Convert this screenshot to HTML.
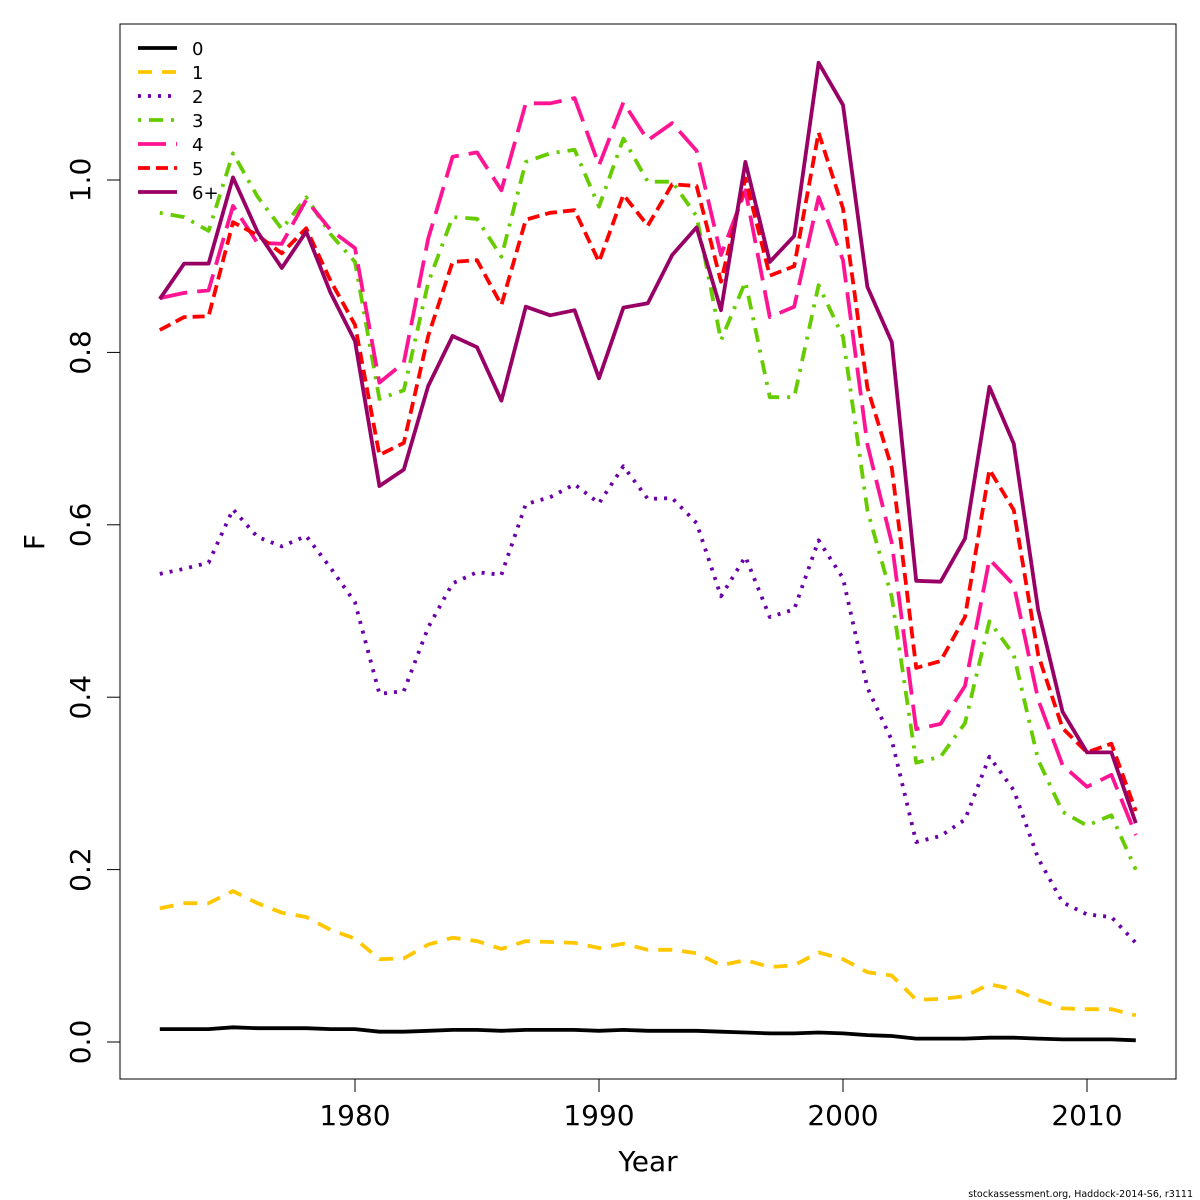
<!DOCTYPE html>
<html><head><meta charset="utf-8"><style>
html,body{margin:0;padding:0;background:#fff;}
svg{display:block;font-family:"DejaVu Sans","Liberation Sans",sans-serif;}
</style></head><body>
<svg id="chart" width="1200" height="1200" viewBox="0 0 1200 1200" xmlns="http://www.w3.org/2000/svg">
<rect x="0" y="0" width="1200" height="1200" fill="#fff"/>
<rect x="120" y="24" width="1056" height="1055" fill="none" stroke="#000" stroke-width="1"/>
<g id="axes"></g>
<g id="series"></g>
<g id="legend"></g>
<text x="648" y="1171" font-size="28" text-anchor="middle">Year</text>
<text x="44" y="542" font-size="28" text-anchor="middle" transform="rotate(-90 44 542)">F</text>
<text x="1193" y="1197" font-size="9.5" text-anchor="end">stockassessment.org, Haddock-2014-S6, r3111</text>
</svg>
<script>
const years = [];
for (let y = 1972; y <= 2012; y++) years.push(y);
const xTicks = [1980, 1990, 2000, 2010];
const yTicks = [0.0, 0.2, 0.4, 0.6, 0.8, 1.0];
const yTickLabels = ["0.0", "0.2", "0.4", "0.6", "0.8", "1.0"];
const seriesNames = ["0", "1", "2", "3", "4", "5", "6+"];
const f0 = [.015,.015,.015,.017,.016,.016,.016,.015,.015,.012,.012,.013,.014,.014,.013,.014,.014,.014,.013,.014,.013,.013,.013,.012,.011,.010,.010,.011,.010,.008,.007,.004,.004,.004,.005,.005,.004,.003,.003,.003,.002];
const f1 = [.155,.161,.161,.175,.161,.150,.145,.130,.120,.096,.097,.113,.121,.117,.108,.117,.116,.115,.109,.114,.107,.107,.103,.089,.095,.087,.089,.104,.096,.081,.077,.049,.050,.053,.067,.061,.049,.039,.038,.038,.031];
const f2 = [.543,.549,.556,.618,.586,.575,.587,.550,.510,.404,.407,.481,.532,.545,.542,.624,.632,.647,.625,.668,.630,.631,.602,.517,.563,.493,.502,.582,.538,.411,.350,.232,.239,.258,.331,.292,.213,.162,.148,.145,.115];
const f3 = [.962,.957,.941,1.031,.981,.943,.980,.937,.905,.746,.756,.881,.957,.955,.911,1.021,1.031,1.035,.969,1.048,.998,.998,.958,.814,.882,.748,.748,.878,.818,.617,.516,.324,.331,.370,.488,.449,.327,.267,.251,.263,.200];
const f4 = [.863,.869,.872,.970,.927,.926,.977,.942,.921,.765,.788,.932,1.027,1.032,.988,1.089,1.089,1.095,1.017,1.090,1.046,1.066,1.034,.913,.988,.841,.853,.980,.907,.693,.579,.363,.369,.413,.560,.530,.397,.321,.296,.310,.240];
const f5 = [.826,.841,.842,.951,.936,.915,.944,.883,.832,.681,.695,.819,.905,.907,.855,.954,.962,.965,.905,.983,.947,.995,.993,.882,1.002,.889,.900,1.055,.967,.759,.666,.434,.442,.493,.664,.617,.449,.364,.336,.346,.268];
const f6 = [.862,.903,.903,1.003,.940,.898,.940,.869,.813,.645,.664,.761,.819,.806,.744,.853,.843,.849,.770,.852,.857,.913,.945,.849,1.021,.905,.935,1.136,1.087,.876,.812,.535,.534,.584,.760,.694,.501,.383,.336,.336,.254];

const NS = "http://www.w3.org/2000/svg";
const xS = y => 355 + (y - 1980) * 24.4;
const yS = v => 1042 - v * 862;
function el(tag, attrs, parent) {
  const e = document.createElementNS(NS, tag);
  for (const k in attrs) e.setAttribute(k, attrs[k]);
  parent.appendChild(e);
  return e;
}
const axes = document.getElementById("axes");
xTicks.forEach(t => {
  const l = el("line", {x1: xS(t), x2: xS(t), y1: 1079, y2: 1092, stroke: "#000"}, axes);
  
  
  const tx = el("text", {x: xS(t), y: 1125, "font-size": 28, "text-anchor": "middle"}, axes);
  tx.textContent = t;
  
  
});
yTicks.forEach((t, i) => {
  const l = el("line", {x1: 107, x2: 120, y1: yS(t), y2: yS(t), stroke: "#000"}, axes);
  
  
  const tx = el("text", {x: 90, y: yS(t), "font-size": 28, "text-anchor": "middle", transform: `rotate(-90 90 ${yS(t)})`}, axes);
  tx.textContent = yTickLabels[i];
  
  
});
const allSeries = [f0, f1, f2, f3, f4, f5, f6];
const colors = ["#000000", "#FFC700", "#6A00A8", "#66CC00", "#FF1493", "#FF0000", "#990066"];
const dashes = ["", "14,10", "3,7", "3,8,14,8", "28,10", "12,6", ""];
const sg = document.getElementById("series");
allSeries.forEach((s, i) => {
  const d = s.map((v, j) => (j ? "L" : "M") + xS(years[j]).toFixed(1) + "," + yS(v).toFixed(1)).join("");
  const p = el("path", {d: d, fill: "none", stroke: colors[i], "stroke-width": 3.8, "stroke-dasharray": dashes[i], "stroke-linejoin": "round"}, sg);
  
  
});
const lg = document.getElementById("legend");
seriesNames.forEach((n, i) => {
  const y = 48 + i * 24;
  const l = el("line", {x1: 138, x2: 177, y1: y, y2: y, stroke: colors[i], "stroke-width": 3.8, "stroke-dasharray": dashes[i]}, lg);
  
  
  const t = el("text", {x: 192, y: y + 7, "font-size": 18}, lg);
  t.textContent = n;
  
  
});
</script>
</body></html>
